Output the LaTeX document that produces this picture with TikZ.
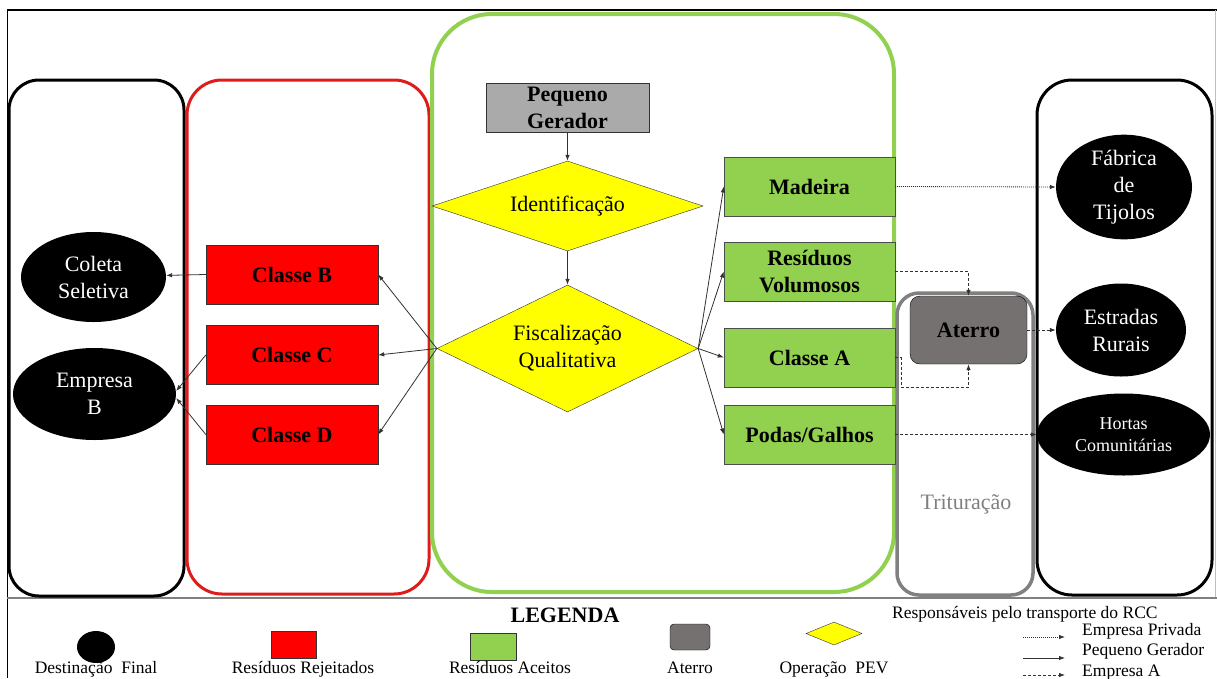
\documentclass[tikz,border=0pt]{standalone}
\usepackage{fontspec}
\setmainfont{Liberation Serif}
\newfontfamily\tnr{Liberation Serif}
\usetikzlibrary{shapes.geometric,arrows.meta,calc}

\definecolor{cred}{RGB}{255,0,0}
\definecolor{credline}{RGB}{222,28,28}
\definecolor{cgreen}{RGB}{146,208,80}
\definecolor{cyellow}{RGB}{255,255,0}
\definecolor{cgray}{RGB}{170,170,170}
\definecolor{caterro}{RGB}{118,113,113}
\definecolor{cframe}{RGB}{128,128,128}
\definecolor{cline}{RGB}{50,50,50}

\newcommand{\fsA}{\tnr\fontsize{22}{27}\selectfont}
\newcommand{\fsH}{\tnr\fontsize{18}{22}\selectfont}
\newcommand{\fsL}{\tnr\fontsize{17.5}{21}\selectfont}

\begin{document}
\begin{tikzpicture}[x=1pt,y=-1pt,
  redbox/.style={draw=black!80, fill=cred, minimum width=172pt, minimum height=59pt, inner sep=0pt, font=\fsA\bfseries},
  greenbox/.style={draw=black!70, fill=cgreen, minimum width=171pt, minimum height=59pt, inner sep=0pt, font=\fsA\bfseries, align=center},
  ell/.style={ellipse, fill=black, text=white, inner sep=0pt, font=\fsA, align=center},
  dia/.style={diamond, aspect=2.5, draw=black!80, fill=cyellow, inner sep=0pt, font=\fsA, align=center},
  conn/.style={draw=cline, line width=0.8pt, -{Latex[length=6pt,width=4.5pt]}},
  dashconn/.style={conn, dash pattern=on 3pt off 2pt},
  dotconn/.style={conn, dash pattern=on 1pt off 1pt},
  legtext/.style={font=\fsL, inner sep=0pt, anchor=base}
]
\useasboundingbox (0,0) rectangle (1217,678);
\fill[white] (0,0) rectangle (1217,678);

% frame
\draw[line width=1.2pt] (7,10) -- (1217,10);
\draw[line width=1pt] (7,10) -- (7,678);
\draw[black!25, line width=0.8pt] (1215,10) -- (1215,598);
\draw[cframe, line width=1.5pt] (7,598) -- (1217,598);

% containers
\draw[line width=3pt, rounded corners=30pt] (9,80) rectangle (184,596);
\draw[credline, line width=3pt, rounded corners=35pt] (187,80) rectangle (429,594);
\draw[cgreen, line width=4pt, rounded corners=60pt] (432,14) rectangle (894,592);
\draw[cframe, line width=3.5pt, rounded corners=22pt] (897,293) rectangle (1033,595);
\draw[line width=3pt, rounded corners=35pt] (1037,80) rectangle (1212,595);

% central nodes
\node[draw=black!80, fill=cgray, minimum width=163pt, minimum height=49pt, inner sep=0pt, font=\fsA\bfseries, align=center] (pg) at (567.5,107.5) {Pequeno\\Gerador};
\node[dia, minimum width=271pt, minimum height=90pt] (ident) at (567.5,206) {Identificação};
\node[dia, minimum width=261pt, minimum height=127pt] (fisc) at (567.5,348.5) {Fiscalização\\Qualitativa};

% red boxes
\node[redbox] (cb) at (292,274.5) {Classe B};
\node[redbox] (cc) at (292,355) {Classe C};
\node[redbox] (cd) at (292,434.5) {Classe D};

% green boxes
\node[greenbox] (mad) at (809.5,186.5) {Madeira};
\node[greenbox] (vol) at (809.5,271.5) {Resíduos\\Volumosos};
\node[greenbox] (ca) at (809.5,357.5) {Classe A};
\node[greenbox] (pod) at (809.5,434.5) {Podas/Galhos};

% ellipses
\node[ell, minimum width=145pt, minimum height=90pt] (coleta) at (93.5,277) {Coleta\\Seletiva};
\node[ell, minimum width=163pt, minimum height=92pt] (empb) at (94.5,394) {Empresa\\B};
\node[ell, minimum width=136pt, minimum height=88pt] (fab) at (1124,187) {Fábrica\\de\\Tijolos};
\node[ell, minimum width=130pt, minimum height=93pt] (estr) at (1121,330) {Estradas\\Rurais};
\node[ell, minimum width=173pt, minimum height=82pt, font=\fsH] (hortas) at (1123.5,434.5) {Hortas\\Comunitárias};

% aterro
\node[draw=black, fill=caterro, rounded corners=10pt, minimum width=117pt, minimum height=68pt, inner sep=0pt, font=\fsA\bfseries] (aterro) at (968.5,330) {Aterro};
\node[text=cframe, font=\fsA, inner sep=0pt] (trit) at (966,504) {Trituração};

% connectors
\draw[conn] (pg.south) -- (ident.north);
\draw[conn] (ident.south) -- (fisc.north);
\draw[conn] (fisc.west) -- (cb.east);
\draw[conn] (fisc.west) -- (cc.east);
\draw[conn] (fisc.west) -- (cd.east);
\draw[conn] (fisc.east) -- (mad.west);
\draw[conn] (fisc.east) -- (vol.west);
\draw[conn] (fisc.east) -- (ca.west);
\draw[conn] (fisc.east) -- (pod.west);
\draw[conn] (cb.west) -- (coleta);
\draw[conn] (cc.west) -- ($(empb.east)+(0,-3)$);
\draw[conn] (cd.west) -- ($(empb.east)+(0,4)$);

\draw[dotconn] (mad.east) -- (fab.west);
\draw[dashconn] (vol.east) -| (aterro.north);
\draw[dashconn] (ca.east) -- ++(6,0) |- ($(aterro.south)+(0,23)$) -- (aterro.south);
\draw[dashconn] (aterro.east) -- (estr.west);
\draw[dashconn] (pod.east) -- (hortas.west);

% legend
\node[font=\fsA\bfseries, inner sep=0pt, anchor=base] (leg) at (565,622) {LEGENDA};
\node[ellipse, fill=black, minimum width=38pt, minimum height=32pt, inner sep=0pt] (lgdest) at (96,647) {};
\node[draw=black!80, fill=cred, minimum width=45pt, minimum height=27pt, inner sep=0pt] (lgrej) at (293.5,645) {};
\node[draw=black!80, fill=cgreen, minimum width=46pt, minimum height=27pt, inner sep=0pt] (lgace) at (493,646.5) {};
\node[draw=black, fill=caterro, rounded corners=4pt, minimum width=40pt, minimum height=26pt, inner sep=0pt] (lgat) at (690,637) {};
\node[diamond, draw=black!80, fill=cyellow, minimum width=56pt, minimum height=23pt, inner sep=0pt] (lgpev) at (834,633.5) {};

\node[legtext] (tdest) at (96,673) {Destinação\ \ Final};
\node[legtext] (trej) at (303,673) {Resíduos Rejeitados};
\node[legtext] (tace) at (510,673) {Resíduos Aceitos};
\node[legtext] (tat) at (690,673) {Aterro};
\node[legtext] (tpev) at (834,673) {Operação\ \ PEV};

\node[legtext, anchor=base west] (resp) at (892,618) {Responsáveis pelo transporte do RCC};
\coordinate (l1s) at (1023,637); \coordinate (l1e) at (1065,637);
\coordinate (l2s) at (1023,658); \coordinate (l2e) at (1065,658);
\coordinate (l3s) at (1023,675); \coordinate (l3e) at (1065,675);
\draw[dotconn] (l1s) -- (l1e);
\draw[conn] (l2s) -- (l2e);
\draw[dashconn] (l3s) -- (l3e);
\node[legtext, anchor=base west] (tpriv) at (1082,635) {Empresa Privada};
\node[legtext, anchor=base west] (tpg) at (1082,655) {Pequeno Gerador};
\node[legtext, anchor=base west] (tea) at (1082,676) {Empresa A};
\end{tikzpicture}
\end{document}
